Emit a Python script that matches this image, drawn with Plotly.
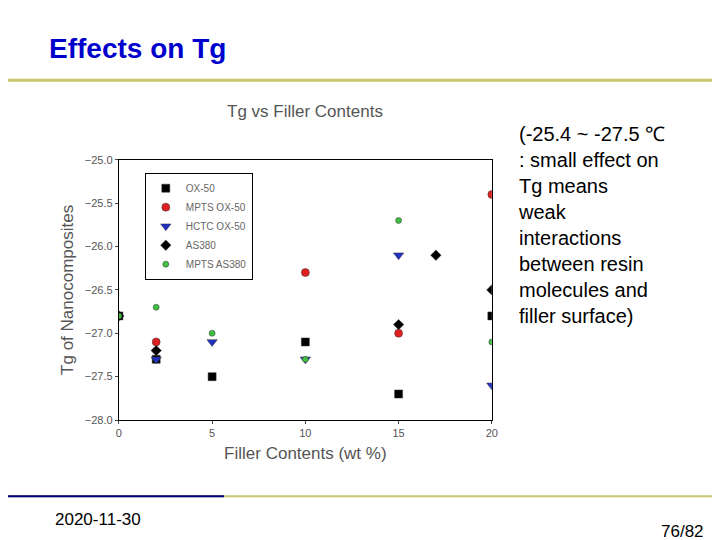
import plotly.graph_objects as go

ox50_x = [0, 2, 5, 10, 15, 20]
ox50_y = [-26.8, -27.3, -27.5, -27.1, -27.7, -26.8]
mpts_ox50_x = [2, 10, 15, 20]
mpts_ox50_y = [-27.1, -26.3, -27.0, -25.4]
hctc_x = [2, 5, 10, 15, 20]
hctc_y = [-27.3, -27.1, -27.3, -26.1, -27.6]
as380_x = [0, 2, 5, 15, 17, 20]
as380_y = [-26.8, -27.2, -26.3, -26.9, -26.1, -26.5]
mpts_as380_x = [0, 2, 5, 10, 15, 20]
mpts_as380_y = [-26.8, -26.7, -27.0, -27.3, -25.7, -27.1]
x_ticks = [0, 5, 10, 15, 20]
y_ticks = [-25.0, -25.5, -26.0, -26.5, -27.0, -27.5, -28.0]

fig = go.Figure()
series = [
    ("OX-50", ox50_x, ox50_y, "square", "black", 8),
    ("MPTS OX-50", mpts_ox50_x, mpts_ox50_y, "circle", "#e02020", 8),
    ("HCTC OX-50", hctc_x, hctc_y, "triangle-down", "#2030c0", 9),
    ("AS380", as380_x, as380_y, "diamond", "black", 8),
    ("MPTS AS380", mpts_as380_x, mpts_as380_y, "circle", "#40c040", 6),
]
for name, xs, ys, sym, col, sz in series:
    fig.add_trace(go.Scatter(x=xs, y=ys, mode="markers", name=name,
                             marker=dict(symbol=sym, color=col, size=sz,
                                         line=dict(width=0.5, color="#333"))))

fig.update_layout(
    width=720, height=540, margin=dict(l=0, r=0, t=0, b=0, autoexpand=False),
    paper_bgcolor="white", plot_bgcolor="white", showlegend=True,
    font=dict(family="Arial, Liberation Sans", color="#333"),
    legend=dict(x=0.19, y=0.695, xanchor="left", yanchor="top",
                bgcolor="white", bordercolor="black", borderwidth=1,
                font=dict(size=10, color="#666"), itemsizing="trace",
                tracegroupgap=0),
    xaxis=dict(domain=[0.154, 0.672], range=[0, 20], tickvals=x_ticks, automargin=False,
               showgrid=False, zeroline=False, showline=True, linecolor="black",
               mirror=True, ticks="outside", ticklen=3,
               tickfont=dict(size=11, color="#555"),
               title=dict(text="Filler Contents (wt %)", font=dict(size=17, color="#555"), standoff=8)),
    yaxis=dict(domain=[0.237, 0.719], range=[-28, -25], tickvals=y_ticks, automargin=False,
               tickformat=".1f", showgrid=False, zeroline=False, showline=True,
               linecolor="black", mirror=True, ticks="outside", ticklen=3,
               tickfont=dict(size=11, color="#555"),
               title=dict(text="Tg of Nanocomposites", font=dict(size=17, color="#555"), standoff=6)),
)
ann = [
    dict(x=0.054, y=0.925, yanchor="middle", text="<b>Effects on Tg</b>", font=dict(size=28, color="#0000cc", family="Arial, Liberation Sans"), xanchor="left"),
    dict(x=0.413, y=0.808, yanchor="middle", text="Tg vs Filler Contents", font=dict(size=17, color="#555")),
    dict(x=0.706, y=0.79, yanchor="top", xanchor="left", align="left",
         text="(-25.4 ~ -27.5 ℃<br>: small effect on<br>Tg means<br>weak<br>interactions<br>between resin<br>molecules and<br>filler surface)",
         font=dict(size=20, color="black", family="Arial, Liberation Sans")),
    dict(x=0.063, y=0.052, yanchor="middle", text="2020-11-30", font=dict(size=17, color="black"), xanchor="left"),
    dict(x=0.97, y=0.03, yanchor="middle", text="76/82", font=dict(size=17, color="black"), xanchor="right"),
]
for a in ann:
    a.update(xref="paper", yref="paper", showarrow=False)
    fig.add_annotation(**a)
fig.add_shape(type="line", xref="paper", yref="paper", x0=0, x1=1, y0=0.866, y1=0.866,
              line=dict(color="#c8c870", width=3))
fig.add_shape(type="line", xref="paper", yref="paper", x0=0, x1=1, y0=0.096, y1=0.096,
              line=dict(color="#c8c870", width=2))
fig.add_shape(type="line", xref="paper", yref="paper", x0=0, x1=0.3, y0=0.096, y1=0.096,
              line=dict(color="#000080", width=2))
fig.write_html("out.html")
